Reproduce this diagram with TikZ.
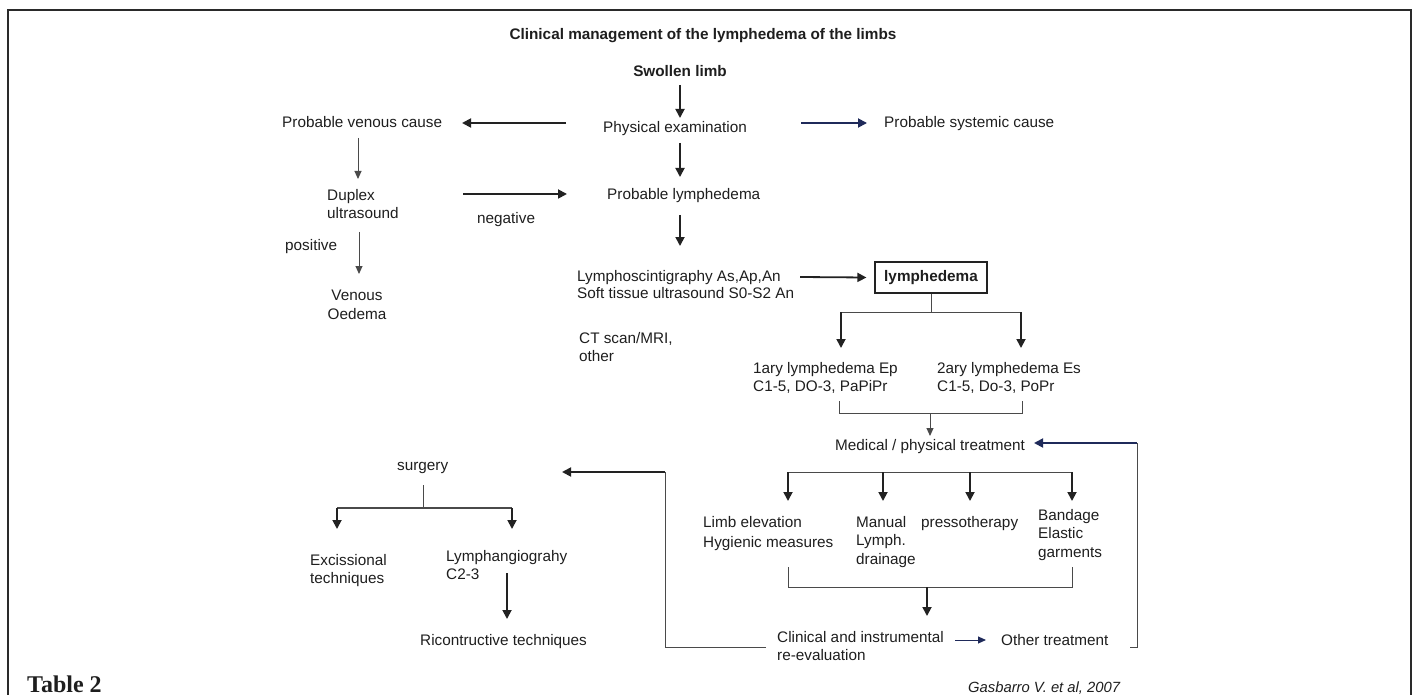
\documentclass[tikz,border=0pt]{standalone}
\usepackage{fontspec}
\setmainfont{Liberation Sans}
\newfontfamily\timesf{Liberation Serif}
\usetikzlibrary{arrows.meta}
\definecolor{txt}{HTML}{1E1E1E}
\definecolor{ln}{HTML}{222222}
\definecolor{ln2}{HTML}{4A4A4A}
\definecolor{navy}{HTML}{1F2A5A}
\definecolor{frame}{HTML}{2A2A2A}
\begin{document}
\begin{tikzpicture}[x=1pt,y=-1pt,
  every node/.style={inner sep=0pt, font=\fontsize{15.3}{18.5}\selectfont, text=txt},
  bold/.style={font=\fontsize{15.3}{18.5}\selectfont\bfseries},
  lbl/.style={anchor=base west},
  mlbl/.style={anchor=north west, align=left},
  arr/.style={line width=1.8pt, draw=ln, -{Triangle[length=9pt,width=9pt]}},
  navyarr/.style={line width=1.8pt, draw=navy, -{Triangle[length=9pt,width=9pt]}},
  thinarr/.style={line width=1pt, draw=ln2, -{Triangle[length=8pt,width=7pt]}},
  thinln/.style={line width=1pt, draw=ln2},
]
\useasboundingbox (0,0) rectangle (1416,695);
% frame
\draw[line width=2pt, draw=frame] (8,696) -- (8,10) -- (1411,10) -- (1411,696);

% texts
\node[bold, anchor=base] (title) at (703,40) {Clinical management of the lymphedema of the limbs};
\node[bold, anchor=base] (swollen) at (680,77) {Swollen limb};
\node[lbl] (phys) at (603,133) {Physical examination};
\node[lbl] (venous) at (282,128) {Probable venous cause};
\node[lbl] (systemic) at (884,128) {Probable systemic cause};
\node[lbl] (problymph) at (607,200) {Probable lymphedema};
\node[mlbl] (duplex) at (327,189) {Duplex\\ultrasound};
\node[lbl] (neg) at (477,223) {negative};
\node[lbl] (pos) at (285,251) {positive};
\node[anchor=north, align=center] (oedema) at (357,290) {Venous\\Oedema};
\node[mlbl, font=\fontsize{15.3}{17.5}\selectfont] (scinti) at (577,270) {Lymphoscintigraphy As,Ap,An\\Soft tissue ultrasound S0-S2 An};
\node[bold, draw=ln, line width=1.2pt, minimum width=112pt, minimum height=31pt] (lymph) at (931,277.5) {lymphedema};
\node[mlbl] (ct) at (579,332) {CT scan/MRI,\\other};
\node[mlbl] (prim) at (753,362) {1ary lymphedema Ep\\C1-5, DO-3, PaPiPr};
\node[mlbl] (sec) at (937,362) {2ary lymphedema Es\\C1-5, Do-3, PoPr};
\node[anchor=base] (medical) at (930,450) {Medical / physical treatment};
\node[mlbl, font=\fontsize{15.3}{20}\selectfont] (limb) at (703,516) {Limb elevation\\Hygienic measures};
\node[mlbl] (manual) at (856,516) {Manual\\Lymph.\\drainage};
\node[lbl] (presso) at (921,527) {pressotherapy};
\node[mlbl] (bandage) at (1038,509) {Bandage\\Elastic\\garments};
\node[mlbl] (clinical) at (777,631) {Clinical and instrumental\\re-evaluation};
\node[lbl] (other) at (1001,645) {Other treatment};
\node[lbl] (surgery) at (397,470) {surgery};
\node[mlbl] (excis) at (310,554) {Excissional\\techniques};
\node[mlbl] (lymphang) at (446,550) {Lymphangiograhy\\C2-3};
\node[lbl] (ricon) at (420,645) {Ricontructive techniques};
\node[lbl, font=\fontsize{14.8}{17}\selectfont\itshape] (cite) at (968,692) {Gasbarro V. et al, 2007};
\node[lbl, font=\timesf\fontsize{24}{28}\selectfont\bfseries] (table) at (27,692) {Table 2};

% connector end points
\coordinate (a1s) at (680,85);  \coordinate (a1e) at (680,118);
\coordinate (a2s) at (680,143); \coordinate (a2e) at (680,177);
\coordinate (a3s) at (680,215); \coordinate (a3e) at (680,246);
\coordinate (lvs) at (566,123); \coordinate (lve) at (462,123);
\coordinate (rss) at (801,123); \coordinate (rse) at (867,123);
\coordinate (ngs) at (463,194); \coordinate (nge) at (567,194);
\coordinate (vds) at (358,138); \coordinate (vde) at (358,179);
\coordinate (pds) at (359,232); \coordinate (pde) at (359,274);
\coordinate (lys) at (800,277); \coordinate (lye) at (lymph.west);
\coordinate (bst) at (931,312);
\coordinate (bl) at (841,312);  \coordinate (blt) at (841,348);
\coordinate (br) at (1021,312); \coordinate (brt) at (1021,348);
\coordinate (k1t) at (839,401); \coordinate (k1b) at (839,413);
\coordinate (k2t) at (1022,401); \coordinate (k2b) at (1022,413);
\coordinate (kmid) at (930,413); \coordinate (kmt) at (930,436);
\coordinate (r1) at (1130,647); \coordinate (r2) at (1137,647);
\coordinate (r3) at (1137,443); \coordinate (r4) at (1034,443);
\coordinate (h1) at (788,472);  \coordinate (h4) at (1072,472);
\coordinate (h2) at (883,472);  \coordinate (h3) at (970,472);
\coordinate (t1) at (788,501);  \coordinate (t2) at (883,501);
\coordinate (t3) at (970,501);  \coordinate (t4) at (1072,501);
\coordinate (q1t) at (788,567); \coordinate (q1b) at (788,587);
\coordinate (q2t) at (1072,567); \coordinate (q2b) at (1072,587);
\coordinate (qmid) at (927,587); \coordinate (qmt) at (927,616);
\coordinate (ots) at (955,640); \coordinate (ote) at (986,640);
\coordinate (c1) at (766,647);  \coordinate (c2) at (665,647);
\coordinate (c3) at (665,472);  \coordinate (c4) at (562,472);
\coordinate (sgs) at (423,485); \coordinate (sgm) at (423,508);
\coordinate (sgl) at (337,508); \coordinate (sgr) at (512,508);
\coordinate (sglt) at (337,529); \coordinate (sgrt) at (512,529);
\coordinate (lgs) at (507,573); \coordinate (lge) at (507,619);

% connectors
\draw[arr] (a1s) -- (a1e);
\draw[arr] (a2s) -- (a2e);
\draw[arr] (a3s) -- (a3e);
\draw[arr] (lvs) -- (lve);
\draw[navyarr] (rss) -- (rse);
\draw[arr] (ngs) -- (nge);
\draw[thinarr] (vds) -- (vde);
\draw[thinarr] (pds) -- (pde);
\draw[arr] (lys) -- ([xshift=-8pt]lye);
\draw[thinln] (lymph.south) -- (bst);
\draw[thinln] (bl) -- (br);
\draw[arr] (bl) -- (blt);
\draw[arr] (br) -- (brt);
\draw[thinln] (k1t) -- (k1b) -- (k2b) -- (k2t);
\draw[thinarr] (kmid) -- (kmt);
\draw[thinln] (r1) -- (r2) -- (r3);
\draw[navyarr] (r3) -- (r4);
\draw[thinln] (h1) -- (h4);
\draw[arr] (h1) -- (t1);
\draw[arr] (h2) -- (t2);
\draw[arr] (h3) -- (t3);
\draw[arr] (h4) -- (t4);
\draw[thinln] (q1t) -- (q1b) -- (q2b) -- (q2t);
\draw[arr] (qmid) -- (qmt);
\draw[thinarr, draw=navy] (ots) -- (ote);
\draw[thinln] (c1) -- (c2) -- (c3);
\draw[arr] (c3) -- (c4);
\draw[thinln] (sgs) -- (sgm);
\draw[thinln, line width=1.4pt] (sgl) -- (sgr);
\draw[arr] (sgl) -- (sglt);
\draw[arr] (sgr) -- (sgrt);
\draw[arr] (lgs) -- (lge);
\end{tikzpicture}
\end{document}
